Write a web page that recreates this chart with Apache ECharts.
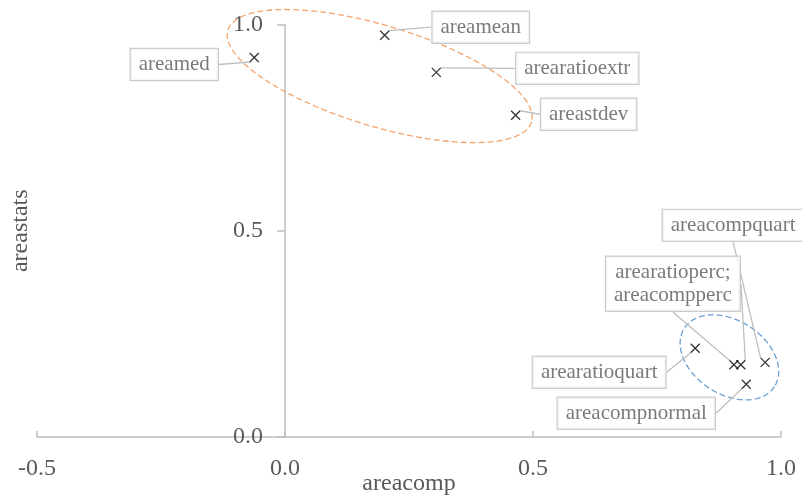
<!DOCTYPE html>
<html>
<head>
<meta charset="utf-8">
<script src="https://cdn.jsdelivr.net/npm/echarts@6/dist/echarts.min.js"></script>
<style>html,body{margin:0;padding:0;background:#fff;}#c{width:802px;height:496px;}</style>
</head>
<body>
<div id="c"></div>
<script>
// ---- data ----
var names = ['areamed','areamean','arearatioextr','areastdev','arearatioquart','arearatioperc','areacompperc','areacompquart','areacompnormal'];
var xValues = [-0.062, 0.201, 0.305, 0.465, 0.827, 0.905, 0.919, 0.968, 0.930];
var yValues = [0.920, 0.974, 0.884, 0.780, 0.215, 0.175, 0.175, 0.181, 0.128];
var labelTexts = ['areamed','areamean','arearatioextr','areastdev','arearatioquart','arearatioperc;\nareacompperc','arearatioperc;\nareacompperc','areacompquart','areacompnormal'];
var xTicks = [-0.5, 0.0, 0.5, 1.0];
var yTicks = [0.0, 0.5, 1.0];
// group ellipse centres (data coords)
var groupCenterX = [0.191, 0.896];
var groupCenterY = [0.875, 0.193];

// ---- styles (label offsets in px, ellipse shape in px) ----
var labelOffsets = [[-80,7],[96,-8],[141,-4],[73,-1],[-96,24],[-61,-81],[-68,-81],[-32,-137],[-110,29]];
var hiddenLabel = [false,false,false,false,false,false,true,false,false];
var ellipseStyle = [
  {rx:158.6, ry:50.4, rot:16.8, color:'#F4A46E'},
  {rx:53.7, ry:36.8, rot:33, color:'#6A9FD3'}
];

var FONT = 'Liberation Serif';
var GREY = '#595959';
var AXIS = '#BFBFBF';
var GRID_LEFT = 37;

var pts = names.map(function(n,i){
  var hid = hiddenLabel[i];
  return {
    name: n,
    value: [xValues[i], yValues[i]],
    label: {
      show: true,
      formatter: labelTexts[i],
      position: 'inside',
      offset: labelOffsets[i],
      color: hid ? 'rgba(0,0,0,0)' : GREY,
      backgroundColor: hid ? 'rgba(0,0,0,0)' : '#fff',
      borderColor: hid ? 'rgba(0,0,0,0)' : AXIS
    }
  };
});

var ellData = groupCenterX.map(function(x,i){ return [x, groupCenterY[i], i]; });

var chart = echarts.init(document.getElementById('c'), null, {renderer:'canvas'});
chart.setOption({
  animation: false,
  backgroundColor: '#fff',
  grid: {left: GRID_LEFT, right: 21, top: 24.5, bottom: 59, containLabel: false, outerBoundsMode: 'none'},
  xAxis: {
    type: 'value', min: xTicks[0], max: xTicks[xTicks.length-1], interval: 0.5,
    name: 'areacomp', nameLocation: 'middle', nameGap: 35, nameMoveOverlap: false,
    nameTextStyle: {fontFamily: FONT, fontSize: 24, color: GREY},
    axisLine: {show: true, onZero: false, lineStyle: {color: AXIS, width: 1.5}},
    axisTick: {show: true, inside: true, length: 6, lineStyle: {color: AXIS, width: 1.5}},
    axisLabel: {fontFamily: FONT, fontSize: 24, color: GREY, margin: 20,
      formatter: function(v){ return v.toFixed(1); }},
    splitLine: {show: false}
  },
  yAxis: {
    type: 'value', min: yTicks[0], max: yTicks[yTicks.length-1], interval: 0.5,
    name: 'areastats', nameLocation: 'middle', nameGap: 252, nameRotate: 90, nameMoveOverlap: false,
    nameTextStyle: {fontFamily: FONT, fontSize: 24, color: GREY},
    axisLine: {show: true, onZero: false, lineStyle: {color: AXIS, width: 1.5}},
    axisTick: {show: true, inside: false, length: 8, lineStyle: {color: AXIS, width: 1.5}},
    axisLabel: {fontFamily: FONT, fontSize: 24, color: GREY, margin: 22,
      formatter: function(v){ return v.toFixed(1); }},
    splitLine: {show: false}
  },
  series: [
    {
      type: 'custom',
      coordinateSystem: 'cartesian2d',
      silent: true,
      z: 1,
      data: ellData,
      renderItem: function(params, api){
        var c = api.coord([api.value(0), api.value(1)]);
        var s = ellipseStyle[api.value(2)];
        var th = s.rot * Math.PI / 180;
        var p = [];
        for (var k = 0; k < 180; k++) {
          var t = k / 180 * Math.PI * 2;
          var ex = s.rx * Math.cos(t), ey = s.ry * Math.sin(t);
          p.push([c[0] + ex*Math.cos(th) - ey*Math.sin(th), c[1] + ex*Math.sin(th) + ey*Math.cos(th)]);
        }
        return {
          type: 'polygon',
          shape: {points: p},
          style: {fill: 'none', stroke: s.color, lineWidth: 1.3, lineDash: [6, 3]}
        };
      }
    },
    {
      type: 'scatter',
      z: 3,
      symbol: 'path://M0,0L10,10M10,0L0,10',
      symbolSize: 9,
      itemStyle: {color: 'rgba(0,0,0,0)', borderColor: '#000', borderWidth: 1.3},
      label: {
        show: true,
        fontFamily: FONT, fontSize: 21, lineHeight: 23, color: GREY,
        backgroundColor: '#fff', borderColor: AXIS, borderWidth: 1.2,
        padding: [4, 8, 4, 8], align: 'center', verticalAlign: 'middle'
      },
      labelLine: {show: true, lineStyle: {color: AXIS, width: 1.3}},
      emphasis: {disabled: true},
      data: pts
    }
  ]
});
// place the y axis (line, ticks, labels, name) where x = 0
var zeroPx = chart.convertToPixel({xAxisIndex: 0}, 0);
chart.setOption({yAxis: {offset: -(zeroPx - GRID_LEFT)}});
</script>
</body>
</html>
